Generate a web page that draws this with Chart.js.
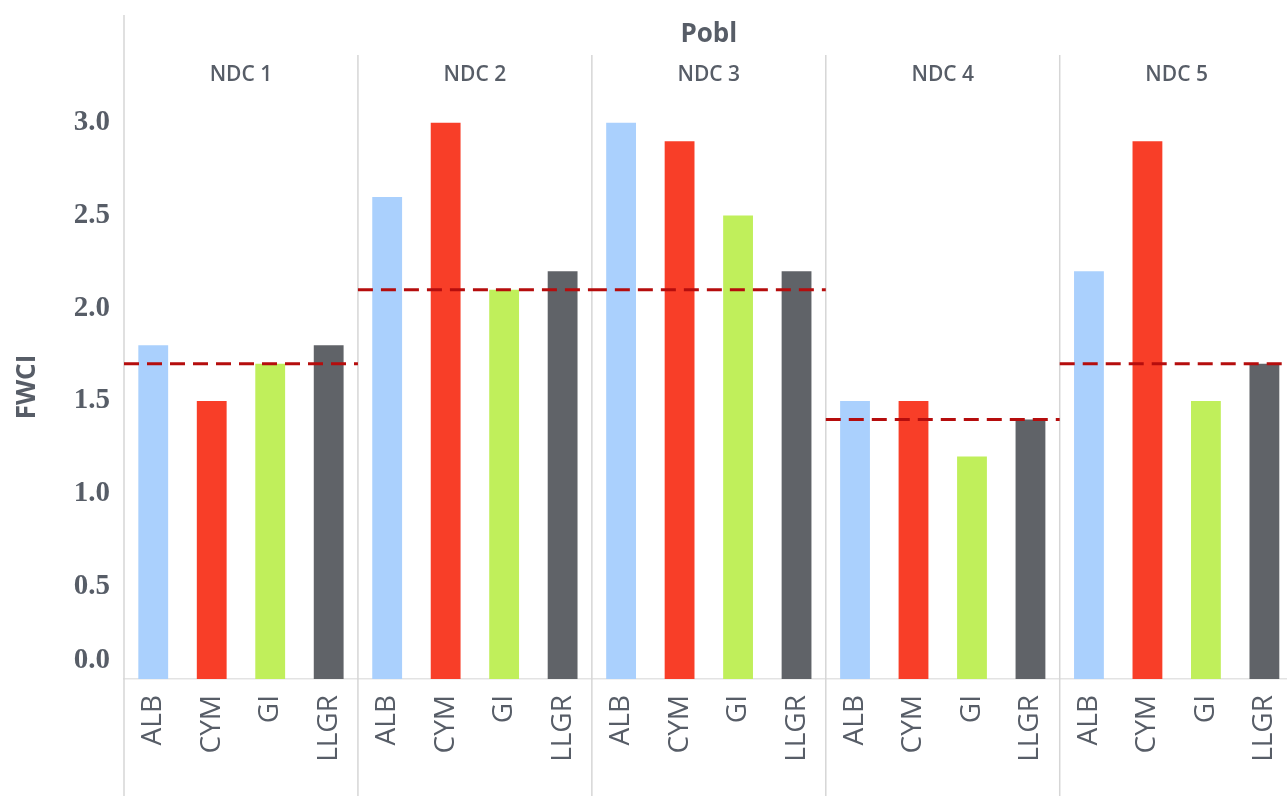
<!DOCTYPE html>
<html>
<head>
<meta charset="utf-8">
<script src="https://cdn.jsdelivr.net/npm/chart.js@4.4.1/dist/chart.umd.min.js"></script>
<style>
  html, body { margin: 0; padding: 0; background: #fff; overflow: hidden; }
</style>
</head>
<body>
<canvas id="chart" width="1314" height="796"></canvas>
<script>
// panels and categories
const groupTitle = 'Pobl';
const panels = ['NDC 1', 'NDC 2', 'NDC 3', 'NDC 4', 'NDC 5'];
const categories = ['ALB', 'CYM', 'GI', 'LLGR'];

// FWCI per category, one value per panel
const alb  = [1.8, 2.6, 3.0, 1.5, 2.2];
const cym  = [1.5, 3.0, 2.9, 1.5, 2.9];
const gi   = [1.7, 2.1, 2.5, 1.2, 1.5];
const llgr = [1.8, 2.2, 2.2, 1.4, 1.7];

// reference (dashed) line per panel
const refLine = [1.7, 2.1, 2.1, 1.4, 1.7];

const yTicks = [0, 0.5, 1.0, 1.5, 2.0, 2.5, 3.0];

const colors = ['#aad0fd', '#f83e28', '#c0ef5b', '#606368'];
const textColor = '#575d67';

// flatten into one row of 20 bars
const series = [alb, cym, gi, llgr];
const labels = [];
const values = [];
const barColors = [];
panels.forEach((p, i) => {
    categories.forEach((c, j) => {
        labels.push(c);
        values.push(series[j][i]);
        barColors.push(colors[j]);
    });
});

const n = categories.length;
const refPoints = [];
refLine.forEach((v, i) => {
    refPoints.push({ x: i * n - 0.5, y: v });
    refPoints.push({ x: i * n + n - 0.5, y: v });
    refPoints.push({ x: i * n + n - 0.5, y: null });
});

const panelPlugin = {
    id: 'panels',
    beforeDatasetsDraw(chart) {
        const { ctx, chartArea, scales: { x } } = chart;
        const half = (x.getPixelForValue(1) - x.getPixelForValue(0)) / 2;
        ctx.save();
        ctx.strokeStyle = '#d6d6d6';
        ctx.lineWidth = 1.5;
        ctx.beginPath();
        ctx.moveTo(chartArea.left, chartArea.top - 80);
        ctx.lineTo(chartArea.left, chart.height);
        ctx.stroke();
        for (let i = 1; i < panels.length; i++) {
            const px = x.getPixelForValue(i * n) - half;
            ctx.beginPath();
            ctx.moveTo(px, chartArea.top - 40);
            ctx.lineTo(px, chart.height);
            ctx.stroke();
        }
        ctx.restore();
    },
    afterDraw(chart) {
        const { ctx, chartArea, scales: { x, y } } = chart;
        ctx.save();
        ctx.fillStyle = textColor;
        ctx.textAlign = 'center';
        ctx.textBaseline = 'middle';
        ctx.font = 'bold 26px "Open Sans"';
        ctx.fillText(groupTitle, (chartArea.left + chartArea.right) / 2, chartArea.top - 60);
        ctx.font = '600 21px "Open Sans"';
        panels.forEach((p, i) => {
            const cx = (x.getPixelForValue(i * n) + x.getPixelForValue(i * n + n - 1)) / 2;
            ctx.fillText(p, cx, chartArea.top - 20);
        });
        // zero label sits raised inside the plot, as in the original
        ctx.textAlign = 'right';
        ctx.font = 'bold 29px "Liberation Serif"';
        ctx.fillText(yTicks[0].toFixed(1), y.right - 14, y.getPixelForValue(0) - 18);
        ctx.restore();
    }
};

new Chart(document.getElementById('chart'), {
    type: 'bar',
    data: {
        labels: labels,
        datasets: [{
            type: 'line',
            data: refPoints,
            xAxisID: 'x2',
            borderColor: '#b50d0d',
            borderWidth: 3,
            borderDash: [15, 8],
            pointRadius: 0,
            spanGaps: false,
            order: 0
        }, {
            type: 'bar',
            data: values,
            backgroundColor: barColors,
            grouped: false,
            categoryPercentage: 1,
            barPercentage: 0.51,
            order: 1
        }]
    },
    options: {
        responsive: false,
        animation: false,
        layout: { padding: { top: 95, left: 0, right: 0, bottom: 0 } },
        plugins: { legend: { display: false }, tooltip: { enabled: false } },
        scales: {
            x: {
                grid: { display: false, drawTicks: false },
                border: { display: true, color: '#e3e3e3', width: 1.5 },
                ticks: {
                    autoSkip: false,
                    minRotation: 90,
                    maxRotation: 90,
                    padding: 16,
                    color: textColor,
                    font: { family: 'Open Sans', size: 28 }
                },
                afterFit(scale) { scale.height = 117; }
            },
            x2: {
                type: 'linear',
                display: false,
                offset: false,
                grid: { offset: false },
                min: -0.5,
                max: labels.length - 0.5
            },
            y: {
                min: 0,
                max: 3.15,
                grid: { display: false, drawTicks: false },
                border: { display: false },
                ticks: {
                    stepSize: 0.5,
                    padding: 14,
                    color: textColor,
                    font: { family: 'Liberation Serif', size: 29, weight: 'bold' },
                    callback: v => (v === 0 ? '' : v.toFixed(1))
                },
                afterBuildTicks(scale) {
                    scale.ticks = yTicks.map(v => ({ value: v }));
                },
                title: {
                    display: true,
                    text: 'FWCI',
                    color: textColor,
                    font: { family: 'Open Sans', size: 26, weight: 'bold' },
                    padding: { top: 12, bottom: 0 }
                },
                afterFit(scale) { scale.width = 124; }
            }
        }
    },
    plugins: [panelPlugin]
});
</script>
</body>
</html>
